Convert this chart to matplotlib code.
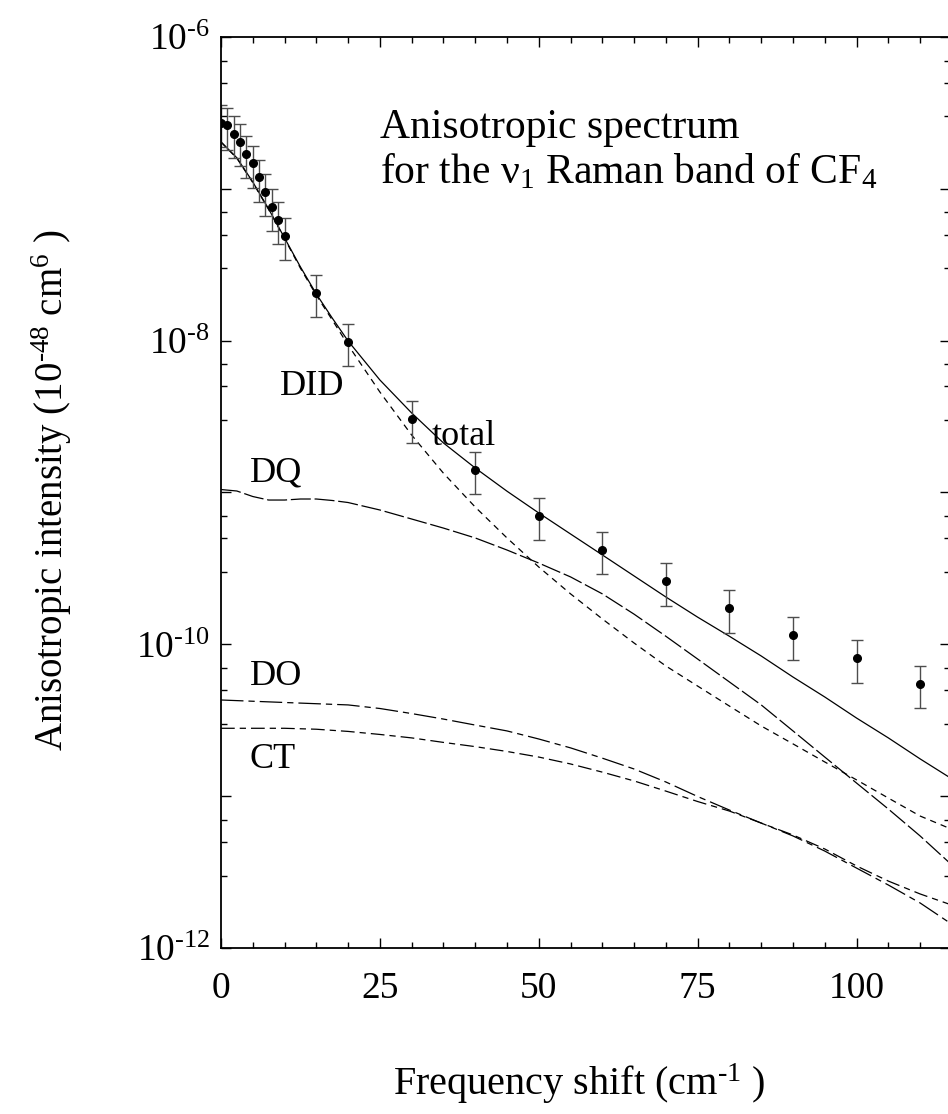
import numpy as np
import matplotlib
matplotlib.use('Agg')
import matplotlib.pyplot as plt
from matplotlib.ticker import LogLocator, MultipleLocator, NullFormatter

plt.rcParams['font.family'] = ['Liberation Serif', 'DejaVu Serif']
plt.rcParams['mathtext.fontset'] = 'custom'
plt.rcParams['mathtext.rm'] = 'Liberation Serif'
plt.rcParams['mathtext.it'] = 'Liberation Serif:italic'

# measured points (cm-1, intensity)
x_pts = [0, 1, 2, 3, 4, 5, 6, 7, 8, 9, 10, 15, 20, 30, 40, 50, 60, 70, 80, 90, 100, 110]
y_pts = [2.73e-7, 2.62e-7, 2.30e-7, 2.04e-7, 1.70e-7, 1.47e-7, 1.19e-7, 9.6e-8, 7.6e-8,
         6.24e-8, 4.91e-8, 2.06e-8, 9.8e-9, 3.05e-9, 1.41e-9, 7.0e-10, 4.18e-10,
         2.61e-10, 1.73e-10, 1.15e-10, 8.1e-11, 5.5e-11]
err_frac = 0.31

# computed curves
x_tot = [0, 2.5, 5, 7.5, 10, 12.5, 15, 17.5, 20, 25, 30, 35, 40, 45, 50, 55, 60, 65, 70,
         75, 80, 85, 90, 95, 100, 105, 110, 114.5]
y_tot = [2.04e-7, 1.60e-7, 1.11e-7, 7.37e-8, 4.75e-8, 3.06e-8, 2.03e-8, 1.41e-8, 9.95e-9,
         5.51e-9, 3.34e-9, 2.12e-9, 1.45e-9, 1.02e-9, 7.33e-10, 5.33e-10, 3.88e-10,
         2.82e-10, 2.05e-10, 1.51e-10, 1.13e-10, 8.38e-11, 6.09e-11, 4.50e-11, 3.27e-11,
         2.42e-11, 1.76e-11, 1.34e-11]

x_did = [0, 2.5, 5, 7.5, 10, 12.5, 15, 17.5, 20, 25, 30, 35, 40, 45, 50, 55, 60, 65, 70,
         75, 80, 85, 90, 95, 100, 105, 110, 114.5]
y_did = [2.03e-7, 1.59e-7, 1.10e-7, 7.3e-8, 4.7e-8, 3.0e-8, 1.99e-8, 1.37e-8, 9.36e-9,
         4.59e-9, 2.39e-9, 1.34e-9, 8.02e-10, 5.02e-10, 3.23e-10, 2.15e-10, 1.47e-10,
         1.02e-10, 7.2e-11, 5.31e-11, 3.92e-11, 2.90e-11, 2.21e-11, 1.68e-11, 1.28e-11,
         9.72e-12, 7.4e-12, 6.17e-12]

x_dq = [0, 2.5, 5, 7.5, 10, 12.5, 15, 17.5, 20, 25, 30, 35, 40, 45, 50, 55, 60, 65, 70,
        75, 80, 85, 90, 95, 100, 105, 110, 114.5]
y_dq = [1.046e-9, 1.023e-9, 9.41e-10, 8.92e-10, 8.92e-10, 9.06e-10, 9.06e-10, 8.86e-10,
        8.59e-10, 7.67e-10, 6.69e-10, 5.83e-10, 5.02e-10, 4.18e-10, 3.43e-10, 2.78e-10,
        2.15e-10, 1.58e-10, 1.13e-10, 8.0e-11, 5.65e-11, 3.99e-11, 2.69e-11, 1.81e-11,
        1.22e-11, 8.23e-12, 5.47e-12, 3.68e-12]

x_do = [0, 10, 20, 25, 30, 35, 40, 45, 50, 55, 60, 65, 70, 75, 80, 85, 90, 95, 100,
        105, 110, 114.5]
y_do = [4.30e-11, 4.14e-11, 3.99e-11, 3.78e-11, 3.50e-11, 3.22e-11, 2.94e-11, 2.69e-11,
        2.38e-11, 2.08e-11, 1.78e-11, 1.51e-11, 1.24e-11, 9.95e-12, 8.1e-12, 6.65e-12,
        5.47e-12, 4.35e-12, 3.36e-12, 2.6e-12, 1.98e-12, 1.48e-12]

x_ct = [0, 10, 15, 20, 25, 30, 35, 40, 45, 50, 55, 60, 65, 70, 75, 80, 85, 90, 95, 100,
        105, 110, 114.5]
y_ct = [2.80e-11, 2.80e-11, 2.76e-11, 2.67e-11, 2.55e-11, 2.42e-11, 2.26e-11, 2.12e-11,
        1.97e-11, 1.81e-11, 1.63e-11, 1.44e-11, 1.26e-11, 1.08e-11, 9.22e-12, 7.98e-12,
        6.65e-12, 5.55e-12, 4.49e-12, 3.47e-12, 2.76e-12, 2.27e-12, 1.95e-12]

fig = plt.figure(figsize=(9.48, 11.14), dpi=100)
ax = fig.add_axes([0.2331, 0.149, 0.769, 0.8178])

lw = 0.9
ax.plot(x_tot, y_tot, color='black', lw=lw)
ax.plot(x_did, y_did, color='black', lw=lw, dashes=(5, 4))
ax.plot(x_dq, y_dq, color='black', lw=lw, dashes=(16, 3))
ax.plot(x_do, y_do, color='black', lw=lw, dashes=(18, 4, 5, 4))
ax.plot(x_ct, y_ct, color='black', lw=lw, dashes=(11, 4, 5, 4))

y_pts = np.array(y_pts)
ax.errorbar(x_pts, y_pts, yerr=err_frac * y_pts, fmt='o', color='black', ms=5.5,
            ecolor='0.3', elinewidth=1.0, capsize=4, capthick=1.0)

ax.set_yscale('log')
ax.set_xlim(0, 114.7)
ax.set_ylim(1e-12, 1e-6)

decades = [1e-12, 1e-11, 1e-10, 1e-9, 1e-8, 1e-7, 1e-6]
dec_labels = [r'$\mathregular{10^{\text{-12}}}$', '', r'$\mathregular{10^{\text{-10}}}$', '',
              r'$\mathregular{10^{\text{-8}}}$', '', r'$\mathregular{10^{\text{-6}}}$']
ax.set_yticks(decades, labels=dec_labels)
ax.yaxis.set_minor_locator(LogLocator(base=10, subs=(3, 5, 7)))
ax.yaxis.set_minor_formatter(NullFormatter())

ax.set_xticks([0, 25, 50, 75, 100])
ax.xaxis.set_minor_locator(MultipleLocator(5))

ax.tick_params(which='both', direction='in', top=True, right=True, width=1.0)
ax.tick_params(which='major', length=7)
ax.tick_params(which='minor', length=4.5)
ax.tick_params(axis='y', which='major', labelsize=27, pad=8)
ax.tick_params(axis='x', which='major', labelsize=27, pad=17)
for s in ax.spines.values():
    s.set_linewidth(1.3)

fig.text(0.055, 0.56, r'Anisotropic intensity (10$^{\text{-48}}$ cm$^{6}$ )', rotation=90,
         ha='center', va='center', fontsize=28)
fig.text(0.611, 0.017, r'Frequency shift (cm$^{\text{-1}}$ )', ha='center', va='baseline',
         fontsize=29)

ax.text(25.0, 2.16e-7, 'Anisotropic spectrum', fontsize=30, va='baseline')
ax.text(25.0, 1.09e-7, r'for the $\mathregular{\nu_1}$ Raman band of CF$_4$',
        fontsize=30, va='baseline')

ax.text(9.3, 10**-8.36, 'DID', fontsize=26, va='baseline')
ax.text(33.1, 10**-8.687, 'total', fontsize=26, va='baseline')
ax.text(4.55, 10**-8.929, 'DQ', fontsize=26, va='baseline')
ax.text(4.55, 10**-10.268, 'DO', fontsize=26, va='baseline')
ax.text(4.45, 10**-10.817, 'CT', fontsize=26, va='baseline')

fig.savefig('out.png', dpi=100)
